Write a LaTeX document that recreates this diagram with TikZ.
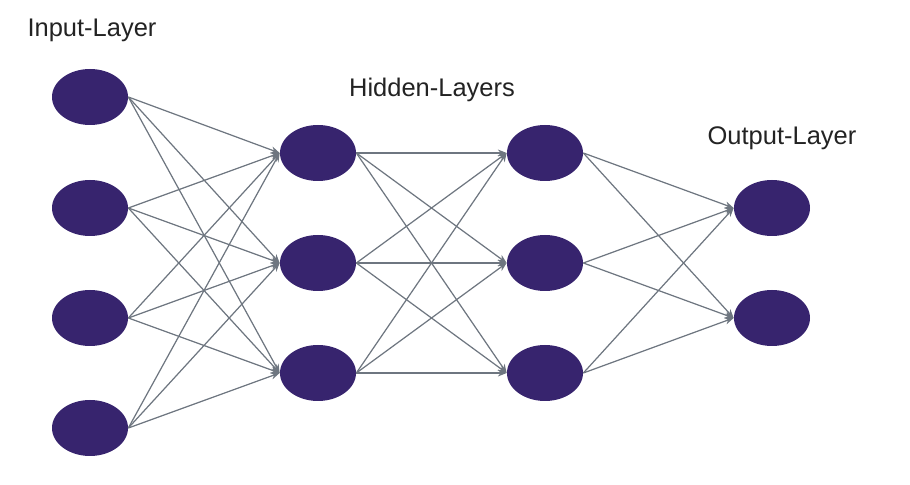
\documentclass[tikz,border=0pt]{standalone}
\usepackage{fontspec}
\setmainfont{Liberation Sans}
\usetikzlibrary{arrows.meta}
\usetikzlibrary{shapes.geometric}
\definecolor{mpurple}{RGB}{55, 36, 110}
\definecolor{mgray}{RGB}{110, 118, 128}
\definecolor{mtext}{RGB}{35, 35, 35}
\tikzset{
  neuron/.style={ellipse, fill=mpurple, minimum width=1.52cm, minimum height=1.12cm, inner sep=0pt},
  link/.style={draw=mgray, line width=0.7pt, -{Stealth[length=5pt, width=4pt]}},
  layer/.style={font=\fontsize{14.5}{16}\selectfont, text=mtext}
}
\begin{document}
\begin{tikzpicture}
      \useasboundingbox (0, 0) rectangle (18.2, 9.7);

      \foreach \i/\y in {1/7.76, 2/5.54, 3/3.34, 4/1.14}
        \node [neuron] (in\i) at (1.8, \y) {};
      \foreach \i/\y in {1/6.64, 2/4.44, 3/2.24}
        \node [neuron] (ha\i) at (6.36, \y) {};
      \foreach \i/\y in {1/6.64, 2/4.44, 3/2.24}
        \node [neuron] (hb\i) at (10.9, \y) {};
      \foreach \i/\y in {1/5.54, 2/3.34}
        \node [neuron] (out\i) at (15.44, \y) {};

      \node [layer] (inlabel) at (1.84, 9.1) {Input-Layer};
      \node [layer] (hidlabel) at (8.64, 7.9) {Hidden-Layers};
      \node [layer] (outlabel) at (15.64, 6.94) {Output-Layer};

      \foreach \i in {1,...,4}
        \foreach \j in {1,...,3}
          \draw [link] (in\i.east) -- (ha\j.west);
      \foreach \i in {1,...,3}
        \foreach \j in {1,...,3}
          \draw [link] (ha\i.east) -- (hb\j.west);
      \foreach \i in {1,...,3}
        \foreach \j in {1,2}
          \draw [link] (hb\i.east) -- (out\j.west);
    \end{tikzpicture}
\end{document}
